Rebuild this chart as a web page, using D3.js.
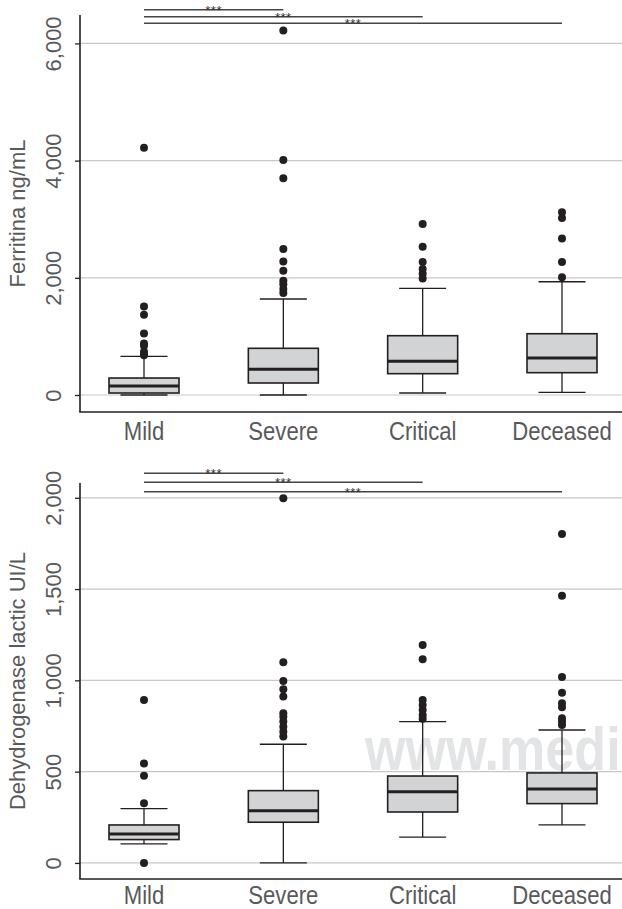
<!DOCTYPE html>
<html>
<head>
<meta charset="utf-8">
<script src="https://cdn.jsdelivr.net/npm/d3@7"></script>
<style>
  body { margin: 0; background: #fff; }
  svg { display: block; font-family: "Liberation Sans", Arial, sans-serif; }
</style>
</head>
<body>
<svg width="622" height="909"></svg>
<script>
const groups = ["Mild", "Severe", "Critical", "Deceased"];

// ferritin (ng/mL)
const ferritinLow = [0, 0, 34, 46];
const ferritinQ1 = [34, 205, 364, 381];
const ferritinMedian = [154, 438, 575, 631];
const ferritinQ3 = [290, 797, 1012, 1046];
const ferritinHigh = [659, 1638, 1820, 1933];
const ferritinOutliers = [
  [4220, 1510, 1370, 1050, 880, 840, 740, 700, 680],
  [6220, 4010, 3700, 2490, 2280, 2120, 1950, 1890, 1810, 1740],
  [2920, 2530, 2270, 2150, 2070, 1990],
  [3120, 3020, 2670, 2270, 2010]
];
const ferritinTicks = [0, 2000, 4000, 6000];
const ferritinSig = [6575, 6456, 6343];

// lactate dehydrogenase (UI/L)
const ldhLow = [104, 0, 141, 208];
const ldhQ1 = [128, 223, 279, 325];
const ldhMedian = [159, 286, 390, 405];
const ldhQ3 = [208, 396, 476, 493];
const ldhHigh = [297, 650, 774, 728];
const ldhOutliers = [
  [893, 544, 478, 327, 0],
  [1997, 1099, 997, 951, 911, 820, 801, 774, 746, 719, 692],
  [1194, 1115, 893, 865, 838, 810, 790],
  [1802, 1464, 1018, 932, 875, 853, 792, 774, 756]
];
const ldhTicks = [0, 500, 1000, 1500, 2000];
const ldhSig = [2134, 2085, 2033];

const sigTargets = ["Severe", "Critical", "Deceased"];
const sigLabels = ["***", "***", "***"];

const svg = d3.select("svg");
const dark = "#231f20";
const textGray = "#58595b";
const fmt = d3.format(",");

const x = d3.scalePoint().domain(groups).range([144, 562]);
const boxW = 70, capW = 47;

function panel(opt) {
  const y = d3.scaleLinear().domain(opt.domain).range([opt.bottom, opt.top]);
  const g = svg.append("g");

  // watermark sits under everything
  if (opt.watermark) {
    g.append("text")
      .attr("transform", `translate(365, 770) scale(0.84, 1)`)
      .attr("font-size", 62)
      .attr("font-weight", "bold")
      .attr("fill", "#e3e4e6")
      .text(opt.watermark);
  }

  // gridlines
  g.selectAll("line.grid")
    .data(opt.ticks)
    .join("line")
    .attr("class", "grid")
    .attr("x1", 80).attr("x2", 622)
    .attr("y1", d => y(d)).attr("y2", d => y(d))
    .attr("stroke", "#c8c8c8")
    .attr("stroke-width", 1.2);

  // y axis
  const yAxis = g.append("g")
    .attr("transform", "translate(80,0)")
    .call(d3.axisLeft(y).tickValues(opt.ticks).tickFormat(fmt).tickSize(5).tickPadding(0));
  yAxis.select(".domain").remove();
  yAxis.selectAll(".tick line").attr("stroke", dark).attr("stroke-width", 1.3);
  yAxis.selectAll(".tick text")
    .attr("x", 0).attr("dy", null)
    .attr("transform", "translate(-19,0) rotate(-90)")
    .attr("text-anchor", "middle")
    .attr("font-size", 22)
    .attr("font-family", "Liberation Sans, Arial, sans-serif")
    .attr("fill", textGray);

  // axis lines
  g.append("line")
    .attr("x1", 80).attr("x2", 80)
    .attr("y1", opt.top).attr("y2", opt.bottom)
    .attr("stroke", dark).attr("stroke-width", 1.6);
  g.append("line")
    .attr("x1", 79.2).attr("x2", 622)
    .attr("y1", opt.bottom).attr("y2", opt.bottom)
    .attr("stroke", dark).attr("stroke-width", 1.6);

  // boxes
  const boxes = g.selectAll("g.box")
    .data(groups)
    .join("g")
    .attr("class", "box")
    .attr("transform", d => `translate(${x(d)},0)`);

  boxes.append("line")
    .attr("y1", (d, i) => y(opt.low[i])).attr("y2", (d, i) => y(opt.q1[i]))
    .attr("stroke", dark).attr("stroke-width", 1.3);
  boxes.append("line")
    .attr("y1", (d, i) => y(opt.q3[i])).attr("y2", (d, i) => y(opt.high[i]))
    .attr("stroke", dark).attr("stroke-width", 1.3);
  boxes.append("line")
    .attr("x1", -capW / 2).attr("x2", capW / 2)
    .attr("y1", (d, i) => y(opt.low[i])).attr("y2", (d, i) => y(opt.low[i]))
    .attr("stroke", dark).attr("stroke-width", 1.3);
  boxes.append("line")
    .attr("x1", -capW / 2).attr("x2", capW / 2)
    .attr("y1", (d, i) => y(opt.high[i])).attr("y2", (d, i) => y(opt.high[i]))
    .attr("stroke", dark).attr("stroke-width", 1.3);
  boxes.append("rect")
    .attr("x", -boxW / 2).attr("width", boxW)
    .attr("y", (d, i) => y(opt.q3[i]))
    .attr("height", (d, i) => y(opt.q1[i]) - y(opt.q3[i]))
    .attr("fill", "#d2d3d5")
    .attr("stroke", dark).attr("stroke-width", 1.6);
  boxes.append("line")
    .attr("x1", -boxW / 2).attr("x2", boxW / 2)
    .attr("y1", (d, i) => y(opt.median[i])).attr("y2", (d, i) => y(opt.median[i]))
    .attr("stroke", dark).attr("stroke-width", 3);

  boxes.selectAll("circle")
    .data((d, i) => opt.outliers[i])
    .join("circle")
    .attr("r", 4)
    .attr("cy", d => y(d))
    .attr("fill", dark);

  // significance brackets from Mild to each other group
  const sig = g.selectAll("g.sig")
    .data(sigTargets)
    .join("g")
    .attr("class", "sig");
  sig.append("line")
    .attr("x1", x("Mild")).attr("x2", d => x(d))
    .attr("y1", (d, i) => y(opt.sig[i])).attr("y2", (d, i) => y(opt.sig[i]))
    .attr("stroke", "#444").attr("stroke-width", 1.5);
  sig.append("text")
    .attr("x", d => (x("Mild") + x(d)) / 2)
    .attr("y", (d, i) => y(opt.sig[i]) + 5)
    .attr("text-anchor", "middle")
    .attr("font-size", 13)
    .attr("letter-spacing", 0.5)
    .attr("fill", "#333")
    .text((d, i) => sigLabels[i]);

  // category labels
  g.selectAll("text.cat")
    .data(groups)
    .join("text")
    .attr("class", "cat")
    .attr("transform", d => `translate(${x(d)},${opt.labelY}) scale(0.85,1)`)
    .attr("text-anchor", "middle")
    .attr("font-size", 26)
    .attr("fill", textGray)
    .text(d => d);

  // y title
  g.append("text")
    .attr("transform", `translate(25,${(opt.top + opt.bottom) / 2}) rotate(-90)`)
    .attr("text-anchor", "middle")
    .attr("font-size", 22)
    .attr("fill", textGray)
    .text(opt.title);
}

panel({
  domain: [-290, 6485], top: 15, bottom: 412, labelY: 440,
  ticks: ferritinTicks, low: ferritinLow, q1: ferritinQ1, median: ferritinMedian,
  q3: ferritinQ3, high: ferritinHigh, outliers: ferritinOutliers, sig: ferritinSig,
  title: "Ferritina ng/mL"
});

panel({
  domain: [-88, 2081], top: 483, bottom: 879, labelY: 904,
  ticks: ldhTicks, low: ldhLow, q1: ldhQ1, median: ldhMedian,
  q3: ldhQ3, high: ldhHigh, outliers: ldhOutliers, sig: ldhSig,
  title: "Dehydrogenase lactic UI/L", watermark: "www.medi"
});
</script>
</body>
</html>
